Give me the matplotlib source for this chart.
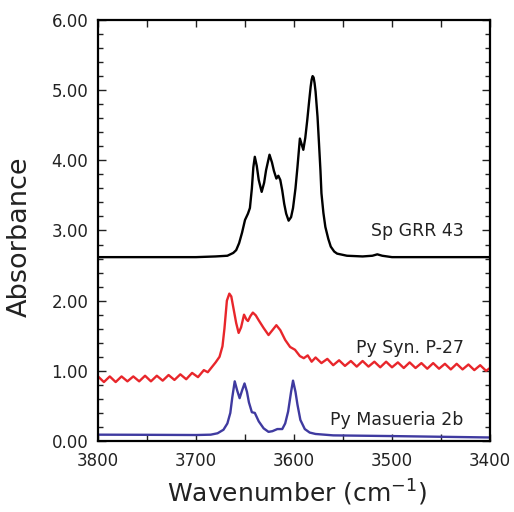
import numpy as np
import matplotlib
matplotlib.use("Agg")
import matplotlib.pyplot as plt
from matplotlib.ticker import MultipleLocator, FormatStrFormatter

# Sp GRR 43 (black, offset spectrum)
sp_wn = [3800, 3700, 3680, 3668, 3662, 3659, 3656, 3653, 3650, 3647, 3645, 3643,
         3641.5, 3640, 3638, 3636, 3633, 3630.5, 3628.5, 3625, 3622.5, 3620.5,
         3618, 3616, 3614, 3612, 3610, 3608, 3605.5, 3603, 3601, 3598.5, 3596.5,
         3594, 3590.5, 3588.5, 3586.5, 3584.5, 3583, 3582, 3581, 3580, 3579, 3578,
         3576, 3574.5, 3573, 3572, 3570, 3568, 3565, 3562.5, 3559, 3556, 3546,
         3530, 3520, 3515, 3510, 3500, 3400]
sp_abs = [2.62, 2.62, 2.63, 2.64, 2.68, 2.72, 2.82, 2.97, 3.15, 3.24, 3.32, 3.60,
          3.90, 4.05, 3.92, 3.72, 3.55, 3.68, 3.86, 4.08, 3.97, 3.85,
          3.74, 3.78, 3.72, 3.57, 3.38, 3.24, 3.14, 3.19, 3.32, 3.60, 3.90,
          4.31, 4.15, 4.32, 4.57, 4.85, 5.05, 5.15, 5.20, 5.18, 5.10, 4.98,
          4.62, 4.24, 3.85, 3.53, 3.25, 3.05, 2.88, 2.77, 2.70, 2.67, 2.64,
          2.63, 2.64, 2.66, 2.64, 2.62, 2.62]

# Py Syn. P-27 (red, with interference fringes)
syn_wn = [3800, 3794, 3788, 3782, 3776, 3770, 3764, 3758, 3752, 3746, 3740, 3734,
          3728, 3722, 3716, 3710, 3704, 3698, 3692, 3688, 3684, 3680, 3676, 3673,
          3671, 3668.5, 3666, 3664, 3661.5, 3659, 3656.5, 3654, 3651, 3648.5,
          3647, 3644.5, 3642, 3639, 3636, 3631, 3626, 3622, 3618, 3614, 3609,
          3604, 3599, 3594, 3590, 3586, 3582,
          3578, 3572, 3566, 3560, 3554, 3548, 3542, 3536, 3530, 3524, 3518, 3512,
          3506, 3500, 3494, 3488, 3482, 3476, 3470, 3464, 3458, 3452, 3446, 3440,
          3434, 3428, 3422, 3416, 3410, 3404, 3400]
syn_abs = [0.92, 0.84, 0.92, 0.84, 0.92, 0.85, 0.92, 0.85, 0.93, 0.85, 0.93, 0.86,
           0.94, 0.87, 0.95, 0.88, 0.97, 0.91, 1.01, 0.98, 1.05, 1.12, 1.20, 1.35,
           1.60, 2.00, 2.10, 2.06, 1.87, 1.68, 1.54, 1.62, 1.80, 1.73,
           1.71, 1.78, 1.83, 1.79, 1.72, 1.61, 1.51, 1.58, 1.65, 1.58, 1.44,
           1.34, 1.30, 1.21, 1.18, 1.22, 1.13,
           1.19, 1.11, 1.17, 1.08, 1.15, 1.07, 1.14, 1.06, 1.14, 1.06, 1.13, 1.05,
           1.13, 1.05, 1.12, 1.04, 1.12, 1.04, 1.11, 1.03, 1.11, 1.03, 1.10, 1.02,
           1.10, 1.02, 1.09, 1.01, 1.08, 1.00, 1.04]

# Py Masueria 2b (blue)
mas_wn = [3800, 3750, 3700, 3685, 3678, 3672, 3668, 3665, 3663, 3660.5, 3658,
          3655.5, 3653, 3650.5, 3648, 3646, 3643, 3640, 3638, 3636, 3631, 3626,
          3622, 3617, 3612, 3609, 3606, 3603, 3601, 3598.5, 3596.5, 3593.5, 3589,
          3584, 3578, 3560, 3500, 3450, 3400]
mas_abs = [0.09, 0.088, 0.085, 0.09, 0.11, 0.16, 0.25, 0.40, 0.62, 0.85, 0.72,
           0.61, 0.72, 0.82, 0.70, 0.55, 0.41, 0.40, 0.34, 0.28, 0.18, 0.13,
           0.14, 0.17, 0.17, 0.25, 0.42, 0.70, 0.86, 0.70, 0.52, 0.30, 0.17,
           0.12, 0.10, 0.08, 0.07, 0.06, 0.05]

labels = ['Sp GRR 43', 'Py Syn. P-27', 'Py Masueria 2b']

plt.rcParams['font.family'] = 'DejaVu Sans'

fig = plt.figure(figsize=(5.14, 5.12), dpi=100)
ax = fig.add_axes([0.1907, 0.1387, 0.7626, 0.8223])

ax.plot(sp_wn, sp_abs, color='black', lw=1.7, solid_joinstyle='round')
ax.plot(syn_wn, syn_abs, color='#e8262b', lw=1.7, solid_joinstyle='round')
ax.plot(mas_wn, mas_abs, color='#3f3aa0', lw=1.7, solid_joinstyle='round')

ax.text(3427, 2.99, labels[0], ha='right', va='center', fontsize=12.5, color='#222222')
ax.text(3427, 1.33, labels[1], ha='right', va='center', fontsize=12.5, color='#222222')
ax.text(3427, 0.30, labels[2], ha='right', va='center', fontsize=12.5, color='#222222')

ax.set_xlim(3800, 3400)
ax.set_ylim(0, 6)
ax.xaxis.set_major_locator(MultipleLocator(100))
ax.xaxis.set_minor_locator(MultipleLocator(50))
ax.yaxis.set_major_locator(MultipleLocator(1))
ax.yaxis.set_minor_locator(MultipleLocator(0.2))
ax.yaxis.set_major_formatter(FormatStrFormatter('%.2f'))

ax.tick_params(which='both', direction='in', top=True, right=True, width=1.0,
               colors='#222222')
ax.tick_params(axis='y', which='major', length=6, pad=7, labelsize=12)
ax.tick_params(axis='y', which='minor', length=3.5)
ax.tick_params(axis='x', which='both', length=5, pad=8, labelsize=12)
for s in ax.spines.values():
    s.set_linewidth(1.6)

ax.set_xlabel('Wavenumber (cm$^{-1}$)', fontsize=18, color='#222222')
ax.set_ylabel('Absorbance', fontsize=19.5, color='#222222')
ax.xaxis.set_label_coords(0.508, -0.088)
ax.yaxis.set_label_coords(-0.166, 0.485)

fig.savefig('out.png', dpi=100, facecolor='white')
